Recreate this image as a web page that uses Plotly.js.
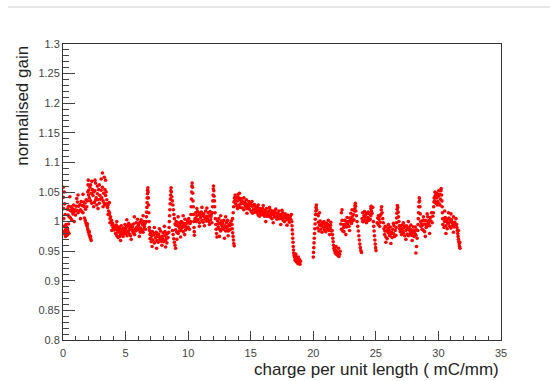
<!DOCTYPE html>
<html>
<head>
<meta charset="utf-8">
<script src="https://cdn.plot.ly/plotly-3.0.1.min.js"></script>
<style>
html,body{margin:0;padding:0;background:#fff;}
#chart{width:550px;height:381px;}
</style>
</head>
<body>
<div id="chart"></div>
<script>
// ---- data (charge per unit length [mC/mm], normalised gain) ----
var s01x=[0.02,0.03,0.05,0.06,0.08,0.10,0.11,0.13,0.15,0.17,0.19,0.21,0.24,0.27,0.30,0.33,0.36,0.40,0.44,0.48];
var s01y=[1.058,1.041,1.022,1.005,0.992,1.050,0.983,1.030,0.978,1.012,0.986,0.975,0.995,0.981,0.990,0.977,0.988,0.983,0.996,0.980];
var s02x=[0.35,0.40,0.45,0.50,0.55,0.60,0.65,0.70,0.75,0.80,0.85,0.90,0.95,1.00,1.05,1.10,1.15,1.20,1.25,1.30,1.35,1.40,1.45,1.50,1.55,1.60,1.65,1.70,1.75,1.80,1.85,1.90,0.55,0.90,1.20,0.70,1.60,1.40,1.10];
var s02y=[1.021,1.011,1.026,1.008,1.019,1.006,1.025,1.017,1.022,1.013,1.028,1.017,1.020,1.011,1.026,1.019,1.033,1.015,1.026,1.018,1.029,1.020,1.034,1.017,1.027,1.015,1.033,1.025,1.031,1.021,1.037,1.025,1.042,1.000,1.045,1.003,1.046,1.005,1.039];
var s03x=[1.72,1.78,1.83,1.88,1.93,1.97,2.01,2.05,2.09,2.13,2.17,2.21,2.25,1.95,2.10,2.20];
var s03y=[1.006,1.002,0.998,0.995,0.992,0.988,0.985,0.982,0.978,0.976,0.973,0.971,0.968,0.996,0.983,0.975];
var s04x=[1.95,1.98,2.00,2.02,2.04,2.05,2.10,2.15,2.20,2.25,2.30,2.35,2.40,2.45,2.50,2.55,2.60,2.65,2.70,2.75,2.80,2.85,2.90,2.95,3.00,3.05,3.10,3.15,3.20,3.25,3.30,3.35,3.40,3.45,3.50,2.30,2.60,2.90,3.05,3.15,3.30,3.40,2.45,2.80,3.20,2.20,2.75,3.35,2.55];
var s04y=[1.035,1.050,1.062,1.070,1.045,1.053,1.040,1.058,1.035,1.048,1.031,1.054,1.044,1.050,1.032,1.052,1.036,1.040,1.028,1.047,1.037,1.054,1.031,1.044,1.038,1.053,1.040,1.058,1.035,1.048,1.031,1.054,1.044,1.050,1.037,1.068,1.065,1.062,1.072,1.082,1.075,1.070,1.025,1.022,1.025,1.062,1.060,1.028,1.070];
var s05x=[3.52,3.56,3.60,3.64,3.68,3.72,3.76,3.80,3.84,3.88,3.92,3.96,4.00,4.05,4.10,3.60,3.75,3.90,3.70];
var s05y=[1.030,1.024,1.028,1.018,1.012,1.015,1.005,1.008,0.999,1.002,0.994,0.997,0.990,0.993,0.986,1.012,0.998,0.985,1.032];
var s06x=[4.15,4.20,4.25,4.30,4.35,4.40,4.45,4.50,4.55,4.60,4.65,4.70,4.75,4.80,4.85,4.90,4.95,5.00,5.05,5.10,5.15,5.20,5.25,5.30,5.35,5.40,5.45,5.50,5.55,5.60,5.65,5.70,5.75,5.80,5.85,5.90,5.95,6.00,6.05,6.10,6.15,6.20,6.25,6.30,6.35,6.40,6.45,6.50,6.55,6.60,4.22,4.38,4.52,4.68,4.83,4.97,5.12,5.28,5.42,5.58,5.72,5.88,6.02,6.18,6.32,6.48,4.30,5.10,5.70,6.40,4.60,5.45,6.10];
var s06y=[0.990,0.980,0.994,0.976,0.986,0.973,0.991,0.983,0.988,0.978,0.993,0.981,0.984,0.975,0.989,0.982,0.995,0.980,0.990,0.982,0.993,0.983,0.997,0.979,0.989,0.976,0.994,0.986,0.991,0.981,0.996,0.984,0.987,0.984,0.998,0.991,1.004,0.986,0.996,0.988,0.999,0.989,1.003,0.985,0.995,0.982,1.000,0.992,0.997,0.987,0.989,0.982,0.975,0.987,0.979,0.986,0.976,0.986,0.992,0.985,0.978,0.988,0.993,0.982,0.998,0.988,1.000,1.003,1.008,1.010,0.968,0.970,0.975];
var s07x=[6.65,6.67,6.69,6.70,6.72,6.73,6.75,6.76,6.78,6.80,6.82,6.84,6.86,6.88,6.90,6.92,6.95];
var s07y=[1.000,1.008,1.016,1.024,1.032,1.040,1.047,1.053,1.057,1.050,1.040,1.028,1.015,1.000,0.990,0.985,0.978];
var s08x=[6.95,7.00,7.05,7.10,7.15,7.20,7.25,7.30,7.35,7.40,7.45,7.50,7.55,7.60,7.65,7.70,7.75,7.80,7.85,7.90,7.95,8.00,8.05,8.10,8.15,8.20,8.25,8.30,8.35,8.40,8.45,7.12,7.48,7.90,8.20,7.30,7.70,8.10,7.02,7.58,8.28];
var s08y=[0.971,0.981,0.966,0.976,0.983,0.969,0.978,0.964,0.980,0.973,0.982,0.968,0.977,0.965,0.979,0.974,0.970,0.984,0.967,0.975,0.971,0.981,0.966,0.976,0.983,0.969,0.978,0.964,0.980,0.973,0.982,0.958,0.955,0.960,0.957,0.990,0.988,0.992,0.972,0.975,0.972];
var s09x=[8.48,8.50,8.52,8.54,8.56,8.58,8.60,8.62,8.64,8.66,8.70,8.74,8.78,8.82,8.86,8.90,8.75,8.80,8.85,8.90,8.95,9.00];
var s09y=[0.990,1.000,1.010,1.020,1.030,1.038,1.045,1.052,1.057,1.050,1.042,1.035,1.028,1.020,1.012,1.005,0.985,0.978,0.971,0.965,0.960,0.955];
var s10x=[8.95,9.00,9.05,9.10,9.15,9.20,9.25,9.30,9.35,9.40,9.45,9.50,9.55,9.60,9.65,9.70,9.75,9.80,9.85,9.90,9.95,10.00,10.05,10.10,10.15,9.10,9.40,9.72,9.20,9.60,9.02,9.28,9.52,9.78,10.02];
var s10y=[0.996,0.986,1.000,0.982,0.993,0.980,0.998,0.990,0.995,0.985,1.000,0.989,0.992,0.983,0.997,0.991,1.004,0.986,0.997,0.989,1.001,0.991,1.005,0.987,0.997,0.970,0.974,0.978,1.008,1.010,0.994,0.984,0.998,0.992,0.998];
var s11x=[10.20,10.22,10.24,10.26,10.28,10.30,10.32,10.35,10.37,10.39,10.41,10.43,10.45,10.47,10.49,10.50];
var s11y=[1.000,1.012,1.025,1.038,1.050,1.060,1.065,1.058,1.048,1.035,1.025,1.012,1.000,0.990,0.983,0.977];
var s12x=[10.55,10.60,10.65,10.70,10.75,10.80,10.85,10.90,10.95,11.00,11.05,11.10,11.15,11.20,11.25,11.30,11.35,11.40,11.45,11.50,11.55,11.60,11.65,11.70,11.75,11.80,11.85,11.90,10.70,11.10,11.50,10.90,11.30,11.70,10.62,11.02,11.42,11.82];
var s12y=[1.005,1.015,1.000,1.010,1.017,1.003,1.012,0.998,1.014,1.007,1.016,1.002,1.011,0.999,1.013,1.008,1.004,1.018,1.001,1.009,1.005,1.015,1.000,1.010,1.017,1.003,1.012,0.998,1.022,1.024,1.023,0.992,0.993,0.995,1.006,1.010,1.007,1.008];
var s13x=[11.93,11.95,11.97,11.99,12.01,12.03,12.05,12.07,12.10,12.12,12.15,12.18,12.21,12.24,12.27,12.30];
var s13y=[1.015,1.025,1.035,1.045,1.055,1.060,1.052,1.043,1.035,1.025,1.015,1.005,0.995,0.987,0.980,0.974];
var s14x=[12.35,12.40,12.45,12.50,12.55,12.60,12.65,12.70,12.75,12.80,12.85,12.90,12.95,13.00,13.05,13.10,13.15,13.20,13.25,13.30,13.35,13.40,13.45,12.50,12.90,13.20,12.60,13.00,12.42,12.72,13.08,13.32];
var s14y=[1.001,0.991,1.005,0.987,0.997,0.984,1.001,0.993,0.997,0.987,1.002,0.990,0.993,0.984,0.998,0.991,1.002,0.984,0.994,0.986,0.997,0.987,1.001,0.975,0.972,0.976,1.010,1.008,0.996,0.988,0.989,0.993];
var s15x=[13.50,13.53,13.56,13.59,13.62,13.65,13.68,13.60,13.63,13.66,13.70,13.73,13.76,13.55];
var s15y=[0.995,0.988,0.981,0.975,0.969,0.963,0.959,1.015,1.025,1.033,1.040,1.035,1.045,1.005];
var s16x=[13.80,13.85,13.90,13.95,14.00,14.05,14.10,14.15,14.20,14.25,14.30,14.35,14.40,14.45,14.50,14.55,14.60,14.65,14.70,14.75,14.80,14.85,14.90,14.95,15.00,15.05,15.10,15.15,15.20,15.25,15.30,15.35,15.40,14.00,14.10,13.95,14.45,14.70,15.10,14.22,14.62,14.92,15.22];
var s16y=[1.030,1.040,1.026,1.035,1.041,1.028,1.037,1.024,1.039,1.032,1.035,1.023,1.031,1.020,1.033,1.028,1.025,1.037,1.022,1.029,1.025,1.034,1.021,1.030,1.030,1.017,1.026,1.014,1.027,1.021,1.029,1.016,1.025,1.046,1.048,1.022,1.040,1.014,1.034,1.030,1.030,1.027,1.020];
var s17x=[15.45,15.50,15.55,15.60,15.65,15.70,15.75,15.80,15.85,15.90,15.95,16.00,16.05,16.10,16.15,16.20,16.25,16.30,16.35,16.40,16.45,16.50,16.55,16.60,16.65,16.70,16.75,16.80,16.85,16.90,16.95,17.00,17.05,17.10,17.15,17.20,17.25,17.30,17.35,17.40,17.45,17.50,17.55,17.60,17.65,17.70,17.75,17.80,17.85,17.90,17.95,18.00,18.05,18.10,18.15,18.20,18.25,15.60,16.00,16.50,17.00,17.50,16.20,16.80,17.40,17.90,15.52,15.78,16.12,16.38,16.62,16.88,17.12,17.38,17.62,17.88,18.12];
var s17y=[1.022,1.015,1.024,1.011,1.018,1.009,1.022,1.016,1.018,1.012,1.022,1.013,1.015,1.009,1.019,1.014,1.022,1.009,1.016,1.009,1.017,1.010,1.020,1.007,1.014,1.005,1.018,1.012,1.014,1.008,1.016,1.008,1.010,1.004,1.014,1.009,1.018,1.005,1.012,1.006,1.012,1.005,1.015,1.002,1.009,1.000,1.013,1.007,1.009,1.003,1.011,1.003,1.005,0.999,1.009,1.004,1.012,1.028,1.027,1.024,1.021,1.019,1.000,0.998,0.995,0.994,1.019,1.012,1.017,1.013,1.011,1.016,1.009,1.010,1.006,1.008,1.006];
var s18x=[18.28,18.30,18.32,18.34,18.36,18.38,18.40,18.42,18.44,18.47];
var s18y=[1.000,0.993,0.986,0.979,0.972,0.965,0.958,0.952,0.947,0.943];
var s19x=[18.50,18.54,18.58,18.62,18.66,18.70,18.74,18.78,18.82,18.86,18.90,18.94,18.98,18.60,18.80];
var s19y=[0.940,0.935,0.942,0.933,0.938,0.931,0.936,0.929,0.934,0.930,0.936,0.928,0.933,0.945,0.940];
var s20x=[20.00,20.02,20.04,20.06,20.08,20.10,20.12,20.14,20.16,20.18,20.20,20.22,20.25,20.28,20.30];
var s20y=[0.940,0.948,0.956,0.964,0.972,0.980,0.988,0.996,1.004,1.012,1.018,1.024,1.028,1.020,1.012];
var s21x=[20.35,20.40,20.45,20.50,20.55,20.60,20.65,20.70,20.75,20.80,20.85,20.90,20.95,21.00,21.05,21.10,21.15,21.20,21.25,21.30,21.35,21.40,21.45,20.40,20.50,20.70,21.00,21.30,20.62,20.88,21.12,21.38];
var s21y=[0.989,0.999,0.984,0.994,1.001,0.987,0.996,0.982,0.998,0.991,1.000,0.986,0.995,0.983,0.997,0.992,0.988,1.002,0.985,0.993,0.989,0.999,0.984,1.010,1.015,0.995,0.992,0.978,0.993,0.990,0.996,0.994];
var s22x=[21.50,21.53,21.56,21.59,21.62,21.65,21.70,21.75,21.80,21.85,21.90,21.95,22.00,22.05,22.10,22.15,21.82,22.02];
var s22y=[0.985,0.978,0.972,0.966,0.960,0.955,0.951,0.947,0.952,0.945,0.949,0.943,0.947,0.941,0.945,0.950,0.958,0.955];
var s23x=[22.20,22.25,22.30,22.35,22.40,22.45,22.50,22.55,22.60,22.65,22.70,22.75,22.80,22.85,22.90,22.95,23.00,23.05,23.10,23.15,23.20,23.25,23.30,22.25,22.30,22.60,22.90,23.10,22.42,22.72,23.02];
var s23y=[0.996,0.987,1.002,0.984,0.995,0.983,1.002,0.995,1.001,0.991,1.007,0.996,1.000,0.992,1.006,1.000,1.014,0.997,1.008,1.001,1.012,1.003,1.018,1.015,1.020,0.978,0.985,1.020,0.990,0.998,1.004];
var s24x=[23.32,23.34,23.36,23.38,23.40,23.45,23.50,23.55,23.60,23.64,23.68,23.72,23.76,23.80,23.85];
var s24y=[1.022,1.027,1.031,1.026,1.018,1.010,1.000,0.992,0.984,0.976,0.969,0.962,0.956,0.951,0.948];
var s25x=[23.90,23.95,24.00,24.05,24.10,24.15,24.20,24.25,24.30,24.35,24.40,24.45,24.50,24.55,24.60,24.65,24.70,24.75,23.95,24.30,24.60,24.62,24.10,24.40];
var s25y=[1.005,1.015,1.000,1.010,1.017,1.003,1.012,0.998,1.014,1.007,1.016,1.002,1.013,1.004,1.022,1.018,1.014,1.024,1.000,1.001,1.010,1.026,1.008,1.005];
var s26x=[24.80,24.83,24.86,24.89,24.92,24.95,24.98,25.01];
var s26y=[1.000,0.992,0.984,0.976,0.969,0.962,0.956,0.951];
var s27x=[25.10,25.15,25.20,25.25,25.30,25.35,25.40,25.43,25.46,25.50,25.55,25.60,25.20,25.30];
var s27y=[0.998,1.006,0.995,1.004,1.009,0.999,1.012,1.020,1.025,1.015,1.005,0.998,1.010,0.992];
var s28x=[25.65,25.70,25.75,25.80,25.85,25.90,25.95,26.00,26.05,26.10,26.15,26.20,26.25,26.30,26.35,26.40,26.45,26.50,26.55,26.60,25.80,26.20,26.00,26.40,25.72,26.08,26.32];
var s28y=[0.988,0.978,0.992,0.974,0.984,0.971,0.989,0.981,0.986,0.976,0.991,0.979,0.982,0.973,0.987,0.980,0.993,0.975,0.985,0.977,0.965,0.963,0.995,0.997,0.984,0.983,0.980];
var s29x=[26.62,26.64,26.66,26.68,26.70,26.72,26.75,26.78,26.81,26.84,26.87,26.90];
var s29y=[0.990,0.998,1.006,1.014,1.021,1.027,1.024,1.016,1.008,1.000,0.993,0.988];
var s30x=[26.95,27.00,27.05,27.10,27.15,27.20,27.25,27.30,27.35,27.40,27.45,27.50,27.55,27.60,27.65,27.70,27.75,27.80,27.85,27.90,27.95,28.00,28.05,28.10,28.15,28.20,28.25,28.30,27.40,27.90,28.20,28.25,27.60,27.20,27.12,27.52,27.82,28.12];
var s30y=[0.983,0.993,0.978,0.988,0.995,0.981,0.990,0.976,0.992,0.985,0.993,0.979,0.988,0.976,0.990,0.985,0.980,0.994,0.977,0.985,0.981,0.991,0.975,0.985,0.991,0.977,0.986,0.972,0.970,0.968,0.947,0.958,1.000,0.998,0.984,0.987,0.986,0.980];
var s31x=[28.35,28.37,28.39,28.41,28.43,28.45,28.47,28.50,28.52,28.55,28.58,28.60];
var s31y=[0.985,0.995,1.005,1.015,1.025,1.033,1.040,1.035,1.025,1.013,1.000,0.992];
var s32x=[28.65,28.70,28.75,28.80,28.85,28.90,28.95,29.00,29.05,29.10,29.15,29.20,29.25,29.30,29.35,29.40,29.45,29.50,29.55,28.80,29.10,29.30,28.95,28.72,29.02,29.28];
var s32y=[0.996,0.987,1.002,0.985,0.996,0.983,1.002,0.995,1.001,0.992,1.008,0.997,1.001,0.993,1.007,1.001,1.015,0.998,1.009,1.008,1.013,0.980,0.975,0.994,0.990,1.002];
var s33x=[29.60,29.62,29.64,29.66,29.70,29.75,29.80,29.85,29.90,29.95,30.00,30.05,30.10,30.15,30.20,30.22,30.25,30.28,29.72,29.92,30.12,30.02,29.82,30.30,30.32,30.34];
var s33y=[1.015,1.025,1.033,1.040,1.035,1.044,1.031,1.040,1.047,1.034,1.043,1.030,1.046,1.038,1.052,1.056,1.045,1.035,1.050,1.028,1.028,1.052,1.048,1.025,1.015,1.005];
var s34x=[30.35,30.40,30.45,30.50,30.55,30.60,30.65,30.70,30.75,30.80,30.85,30.90,30.95,31.00,31.05,31.10,31.15,31.20,31.25,31.30,31.35,31.40,30.50,30.80,31.00,30.60,31.20,30.72,31.02];
var s34y=[0.995,1.005,0.990,1.000,1.007,0.993,1.002,0.988,1.004,0.997,1.006,0.992,1.001,0.989,1.003,0.998,0.994,1.008,0.991,0.999,0.995,1.005,1.018,1.015,1.013,0.980,0.982,0.998,1.000];
var s35x=[31.45,31.48,31.51,31.54,31.57,31.60,31.63,31.66,31.69,31.72,31.60,31.70];
var s35y=[0.995,0.990,0.985,0.980,0.975,0.970,0.966,0.962,0.958,0.955,0.985,0.965];

var xTickVals=[0,5,10,15,20,25,30,35];
var xTickText=["0","5","10","15","20","25","30","35"];
var yTickVals=[0.8,0.85,0.9,0.95,1,1.05,1.1,1.15,1.2,1.25,1.3];
var yTickText=["0.8","0.85","0.9","0.95","1","1.05","1.1","1.15","1.2","1.25","1.3"];
var xTitle="charge per unit length ( mC/mm)";
var yTitle="normalised gain";

var segs=[[s01x,s01y],[s02x,s02y],[s03x,s03y],[s04x,s04y],[s05x,s05y],[s06x,s06y],[s07x,s07y],[s08x,s08y],[s09x,s09y],[s10x,s10y],[s11x,s11y],[s12x,s12y],[s13x,s13y],[s14x,s14y],[s15x,s15y],[s16x,s16y],[s17x,s17y],[s18x,s18y],[s19x,s19y],[s20x,s20y],[s21x,s21y],[s22x,s22y],[s23x,s23y],[s24x,s24y],[s25x,s25y],[s26x,s26y],[s27x,s27y],[s28x,s28y],[s29x,s29y],[s30x,s30y],[s31x,s31y],[s32x,s32y],[s33x,s33y],[s34x,s34y],[s35x,s35y]];
var allX=[],allY=[];
segs.forEach(function(s){var n=Math.min(s[0].length,s[1].length);for(var i=0;i<n;i++){allX.push(s[0][i]);allY.push(s[1][i]);}});

var font="Liberation Sans, Arial, Helvetica, sans-serif";
var trace={x:allX,y:allY,type:"scatter",mode:"markers",
  marker:{color:"#ff0000",size:3.6,line:{width:0}},hoverinfo:"skip"};

var layout={
  width:550,height:381,
  margin:{l:63,r:49,t:44,b:41,pad:0},
  paper_bgcolor:"#ffffff",plot_bgcolor:"#ffffff",
  showlegend:false,
  font:{family:font,size:11,color:"#333"},
  xaxis:{range:[0,35],tickmode:"array",tickvals:xTickVals,ticktext:xTickText,
    ticks:"inside",ticklen:9,tickwidth:1,tickcolor:"#444",ticklabelstandoff:3,
    minor:{ticks:"inside",ticklen:4.5,dtick:1,tickcolor:"#444",showgrid:false},
    showgrid:false,zeroline:false,showline:true,linecolor:"#333",linewidth:1,mirror:true,
    tickfont:{family:font,size:11,color:"#444"},fixedrange:true},
  yaxis:{range:[0.8,1.3],tickmode:"array",tickvals:yTickVals,ticktext:yTickText,
    ticks:"inside",ticklen:12,tickwidth:1,tickcolor:"#444",
    minor:{ticks:"inside",ticklen:6,dtick:0.01,tickcolor:"#444",showgrid:false},
    showgrid:false,zeroline:false,showline:true,linecolor:"#333",linewidth:1,mirror:true,
    tickfont:{family:font,size:11,color:"#444"},fixedrange:true},
  annotations:[
    {text:xTitle,xref:"paper",yref:"paper",x:1,y:-0.098,xanchor:"right",yanchor:"middle",
     showarrow:false,font:{family:font,size:17,color:"#222"}},
    {text:yTitle,xref:"paper",yref:"paper",x:-0.094,y:1,xanchor:"center",yanchor:"top",textangle:-90,
     showarrow:false,font:{family:font,size:17,color:"#222"}}
  ],
  shapes:[
    {type:"line",xref:"paper",yref:"paper",x0:-0.1256,x1:1.112,y0:1.125,y1:1.125,
     line:{color:"#cccccc",width:1}}
  ]
};
Plotly.newPlot("chart",[trace],layout,{displayModeBar:false,staticPlot:true});
</script>
</body>
</html>
